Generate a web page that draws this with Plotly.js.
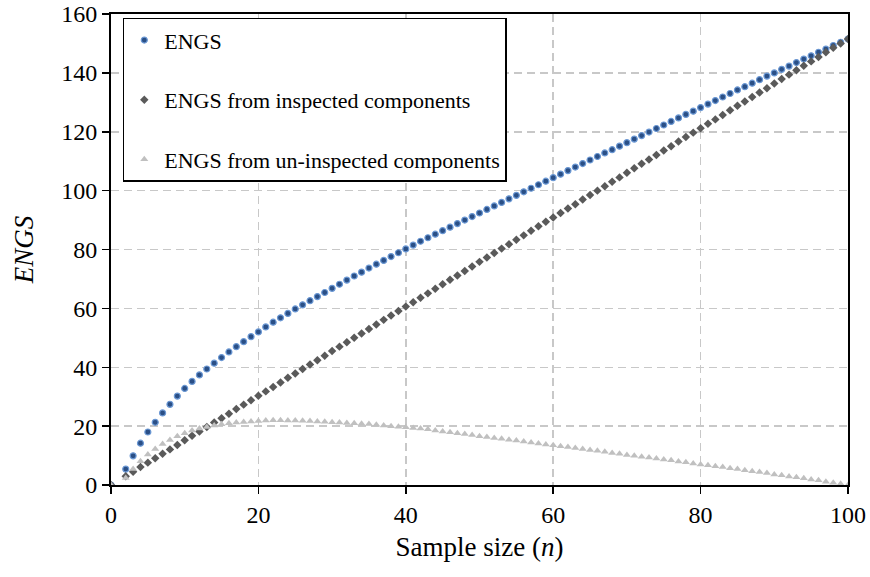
<!DOCTYPE html>
<html>
<head>
<meta charset="utf-8">
<script src="https://cdn.plot.ly/plotly-3.0.1.min.js"></script>
<style>html,body{margin:0;padding:0;background:#fff;}#chart{width:870px;height:577px;}</style>
</head>
<body>
<div id="chart"></div>
<script>
var sampleSize = [0,
  2,3,4,5,6,7,8,9,10,11,
  12,13,14,15,16,17,18,19,20,21,
  22,23,24,25,26,27,28,29,30,31,
  32,33,34,35,36,37,38,39,40,41,
  42,43,44,45,46,47,48,49,50,51,
  52,53,54,55,56,57,58,59,60,61,
  62,63,64,65,66,67,68,69,70,71,
  72,73,74,75,76,77,78,79,80,81,
  82,83,84,85,86,87,88,89,90,91,
  92,93,94,95,96,97,98,99,100];

var engs = [0,
  5.4, 9.9, 14.2, 18.0, 21.3, 24.5, 27.4, 30.2, 32.8, 35.2,
  37.4, 39.4, 41.4, 43.3, 45.2, 47.0, 48.7, 50.4, 52.0, 53.7,
  55.3, 56.8, 58.3, 59.8, 61.2, 62.6, 64.0, 65.4, 66.8, 68.2,
  69.6, 71.0, 72.3, 73.7, 75.0, 76.3, 77.6, 78.9, 80.2, 81.5,
  82.8, 84.0, 85.2, 86.4, 87.6, 88.8, 90.0, 91.2, 92.4, 93.6,
  94.8, 96.0, 97.2, 98.4, 99.6, 100.8, 102.0, 103.2, 104.4, 105.6,
  106.8, 108.0, 109.2, 110.4, 111.6, 112.8, 113.9, 115.1, 116.3, 117.5,
  118.7, 119.9, 121.1, 122.3, 123.5, 124.7, 125.9, 127.0, 128.2, 129.4,
  130.6, 131.8, 133.0, 134.2, 135.3, 136.5, 137.7, 138.9, 140.0, 141.2,
  142.3, 143.5, 144.7, 145.8, 147.0, 148.1, 149.3, 150.4, 151.5];

var engsInspected = [0,
  3.0, 4.5, 6.1, 7.6, 9.1, 10.6, 12.1, 13.6, 15.2, 16.7,
  18.2, 19.7, 21.2, 22.7, 24.2, 25.8, 27.3, 28.8, 30.3, 31.8,
  33.3, 34.8, 36.4, 37.9, 39.4, 40.9, 42.4, 43.9, 45.5, 47.0,
  48.5, 50.0, 51.5, 53.0, 54.5, 56.1, 57.6, 59.1, 60.6, 62.1,
  63.6, 65.1, 66.7, 68.2, 69.7, 71.2, 72.7, 74.2, 75.8, 77.3,
  78.8, 80.3, 81.8, 83.3, 84.8, 86.4, 87.9, 89.4, 90.9, 92.4,
  93.9, 95.4, 97.0, 98.5, 100.0, 101.5, 103.0, 104.5, 106.1, 107.6,
  109.1, 110.6, 112.1, 113.6, 115.1, 116.7, 118.2, 119.7, 121.2, 122.7,
  124.2, 125.7, 127.3, 128.8, 130.3, 131.8, 133.3, 134.8, 136.4, 137.9,
  139.4, 140.9, 142.4, 143.9, 145.4, 147.0, 148.5, 150.0, 151.5];

var engsUninspected = [0,
  2.4, 5.4, 8.1, 10.4, 12.2, 13.9, 15.3, 16.6, 17.6, 18.5,
  19.2, 19.7, 20.2, 20.6, 21.0, 21.2, 21.4, 21.6, 21.7, 21.9,
  22.0, 22.0, 21.9, 21.9, 21.8, 21.7, 21.6, 21.5, 21.3, 21.2,
  21.1, 21.0, 20.8, 20.7, 20.5, 20.2, 20.0, 19.8, 19.6, 19.4,
  19.2, 18.9, 18.5, 18.2, 17.9, 17.6, 17.3, 17.0, 16.6, 16.3,
  16.0, 15.7, 15.4, 15.1, 14.8, 14.4, 14.1, 13.8, 13.5, 13.2,
  12.9, 12.6, 12.2, 11.9, 11.6, 11.3, 10.9, 10.6, 10.2, 9.9,
  9.6, 9.3, 9.0, 8.7, 8.4, 8.0, 7.7, 7.3, 7.0, 6.7,
  6.4, 6.1, 5.7, 5.4, 5.0, 4.7, 4.4, 4.1, 3.6, 3.3,
  2.9, 2.6, 2.3, 1.9, 1.6, 1.1, 0.8, 0.4, 0.0];

var seriesNames = ["ENGS", "ENGS from inspected components", "ENGS from un-inspected components"];
var xTicks = [0, 20, 40, 60, 80, 100];
var yTicks = [0, 20, 40, 60, 80, 100, 120, 140, 160];

var serif = "Liberation Serif";

var traces = [
  {x: sampleSize, y: engs, name: seriesNames[0], type: "scatter", mode: "markers", legendgroup: "a",
   marker: {symbol: "circle", size: 6, color: "#2a4f86", line: {color: "#6b98d4", width: 1.2}}},
  {x: sampleSize, y: engsInspected, name: seriesNames[1], type: "scatter", mode: "markers", legendgroup: "b",
   marker: {symbol: "diamond", size: 6.5, color: "#5a5a5a", line: {width: 0}}},
  {x: sampleSize, y: engsUninspected, name: seriesNames[2], type: "scatter", mode: "markers", legendgroup: "c",
   marker: {symbol: "triangle-up", size: 7, color: "#c0c0c0", line: {width: 0}}}
];

var axisCommon = {
  showline: true, linecolor: "#000", linewidth: 2, mirror: true,
  ticks: "outside", ticklen: 7, tickwidth: 1.5, tickcolor: "#000",
  showgrid: true, gridcolor: "#c8c8c8", gridwidth: 1.5, griddash: "8px,5px",
  zeroline: false, ticklabeloverflow: "allow",
  tickfont: {family: serif, size: 24, color: "#000"}
};

var layout = {
  width: 870, height: 577,
  margin: {l: 111, r: 22, t: 14, b: 92},
  paper_bgcolor: "#fff", plot_bgcolor: "#fff",
  font: {family: serif, color: "#000"},
  showlegend: true,
  legend: {
    x: 0.016, y: 0.992, xanchor: "left", yanchor: "top",
    bgcolor: "#fff", bordercolor: "#000", borderwidth: 1.5,
    font: {family: serif, size: 22, color: "#000"},
    tracegroupgap: 28, itemwidth: 30
  },
  xaxis: Object.assign({}, axisCommon, {
    range: [0, 100], tickvals: xTicks, ticktext: xTicks.map(String),
    title: {text: "Sample size (<i>n</i>)", font: {family: serif, size: 27, color: "#000"}, standoff: 10}
  }),
  yaxis: Object.assign({}, axisCommon, {
    range: [0, 160], tickvals: yTicks, ticktext: yTicks.map(String),
    title: {text: "<i>ENGS</i>", font: {family: serif, size: 27, color: "#000"}, standoff: 20}
  })
};

Plotly.newPlot("chart", traces, layout, {displayModeBar: false, staticPlot: true});
</script>
</body>
</html>
